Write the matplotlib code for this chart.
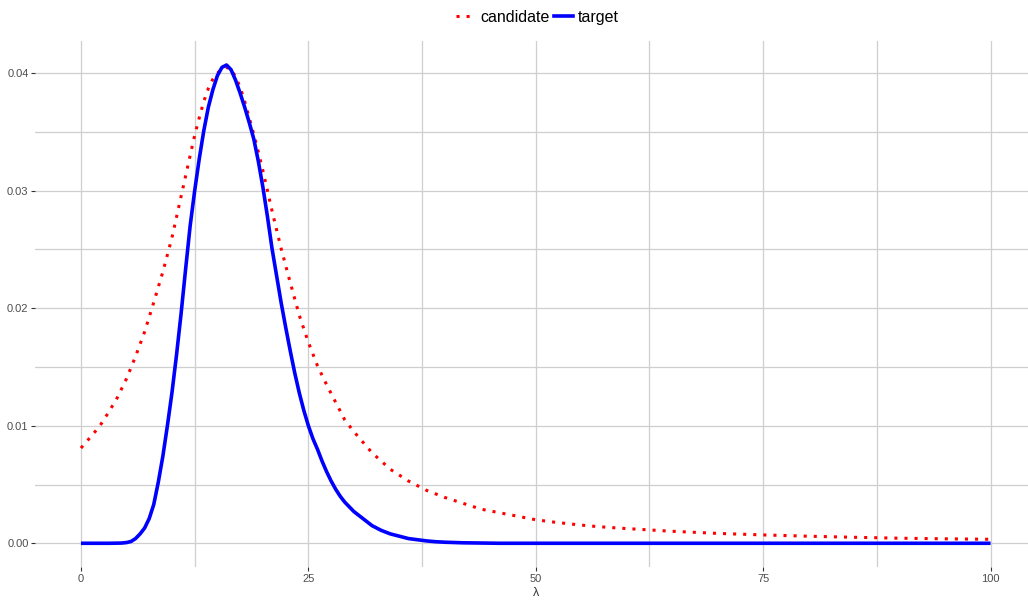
import matplotlib
matplotlib.use("Agg")
import matplotlib.pyplot as plt
from matplotlib.lines import Line2D
from matplotlib.ticker import MultipleLocator

plt.rcParams['font.family'] = ['Liberation Sans', 'DejaVu Sans']

# proposal density (dotted red)
lam_candidate = [0, 1, 2, 3, 4, 5, 6, 7, 8, 9, 10, 11,
                 12, 12.5, 13, 13.5, 14, 14.5, 15, 15.5, 16, 16.5, 17, 17.5,
                 18, 18.5, 19, 19.5, 20,
                 21, 22, 23, 24, 25, 26, 27, 28, 29, 30,
                 31, 32, 33, 34, 35, 36, 37, 38, 39, 40,
                 42, 44, 46, 48, 50, 52, 54, 56, 58, 60,
                 65, 70, 75, 80, 85, 90, 95, 100]
candidate = [0.0081, 0.0090, 0.0099, 0.0111, 0.0124, 0.0140, 0.0159, 0.0180, 0.0205, 0.0231, 0.0260, 0.0295,
             0.0330, 0.0347, 0.0362, 0.0376, 0.0387, 0.0395, 0.0400, 0.0404, 0.0405, 0.0403, 0.0397, 0.0388,
             0.0376, 0.0362, 0.0348, 0.0333, 0.0317,
             0.0283, 0.0251, 0.0222, 0.0194, 0.0171, 0.0151, 0.0135, 0.0120, 0.0105, 0.0095,
             0.0086, 0.0077, 0.0070, 0.0063, 0.0058, 0.0053, 0.0049, 0.0045, 0.0042, 0.0039,
             0.0034, 0.0029, 0.0026, 0.0023, 0.0020, 0.0018, 0.00163, 0.00147, 0.00135, 0.00125,
             0.00102, 0.00084, 0.00071, 0.00060, 0.00051, 0.00043, 0.00038, 0.00034]

# target density (solid blue)
lam_target = [0, 1, 2, 3, 4, 4.5, 5, 5.5, 6, 6.5, 7, 7.5, 8, 8.5, 9, 9.5,
              10, 10.5, 11, 11.5, 12, 12.5, 13, 13.5, 14, 14.5, 15, 15.5,
              16, 16.5, 17, 17.5, 18, 18.5, 19, 19.5, 20, 20.5, 21, 21.5,
              22, 22.5, 23, 23.5, 24, 24.5, 25, 25.5, 26, 26.5, 27, 27.5,
              28, 28.5, 29, 29.5, 30, 31, 32, 33, 34, 35, 36, 37, 38, 39,
              40, 42, 44, 46, 50, 60, 70, 80, 90, 100]
target = [0.0, 0.0, 0.0, 0.0, 0.00001, 0.00002, 0.00006, 0.00015, 0.0004, 0.0008, 0.0013, 0.0021, 0.0033, 0.0052, 0.0074, 0.0100,
          0.0128, 0.0160, 0.0195, 0.0233, 0.0270, 0.0300, 0.0327, 0.0351, 0.0371, 0.0386, 0.0398, 0.0405,
          0.0407, 0.0403, 0.0394, 0.0383, 0.0371, 0.0358, 0.0344, 0.0325, 0.0303, 0.0278, 0.0251, 0.0228,
          0.0205, 0.0184, 0.0164, 0.0145, 0.0128, 0.0113, 0.0100, 0.0089, 0.0080, 0.0070, 0.0061, 0.0053,
          0.0046, 0.0040, 0.0035, 0.0031, 0.0027, 0.0021, 0.0015, 0.0011, 0.0008, 0.0006, 0.0004, 0.0003, 0.0002, 0.00013,
          0.00009, 0.00004, 0.00002, 0.0, 0.0, 0.0, 0.0, 0.0, 0.0, 0.0]

x_ticks = [0, 25, 50, 75, 100]
y_ticks = [0.00, 0.01, 0.02, 0.03, 0.04]

fig = plt.figure(figsize=(10.28, 6.0), dpi=100)
ax = fig.add_axes([0.03453, 0.0547, 0.9733, 0.8768])

dot_style = (0, (1, 2.3))
ax.plot(lam_candidate, candidate, color='red', lw=2.2, linestyle=dot_style,
        dash_capstyle='butt', zorder=3)
ax.plot(lam_target, target, color='blue', lw=2.6, solid_joinstyle='round',
        solid_capstyle='butt', zorder=3)

xmin, xmax = 0, 100
ymin, ymax = 0.0, max(max(candidate), max(target))
xpad = 0.05 * (xmax - xmin)
ypad = 0.05 * (ymax - ymin)
ax.set_xlim(xmin - xpad, xmax + xpad)
ax.set_ylim(ymin - ypad, ymax + ypad)

ax.set_xticks(x_ticks)
ax.set_xticklabels([str(t) for t in x_ticks])
ax.set_yticks(y_ticks)
ax.set_yticklabels([f"{t:.2f}" for t in y_ticks])
ax.xaxis.set_minor_locator(MultipleLocator(12.5))
ax.yaxis.set_minor_locator(MultipleLocator(0.005))

ax.grid(True, which='major', color='#cfcfcf', lw=0.9)
ax.grid(True, which='minor', color='#cfcfcf', lw=0.9)
ax.set_axisbelow(True)
for s in ax.spines.values():
    s.set_visible(False)

ax.tick_params(which='major', length=3, width=0.8, color='#333333',
               labelsize=8, labelcolor='#4d4d4d', pad=2)
ax.tick_params(which='minor', length=0)

ax.set_xlabel('λ', fontsize=9, color='#333333', labelpad=2)

handles = [Line2D([], [], color='red', lw=2.2, linestyle=(0, (1, 2.3)), dash_capstyle='butt'),
           Line2D([], [], color='blue', lw=2.6)]
fig.legend(handles, ['candidate', 'target'], loc='upper center',
           bbox_to_anchor=(0.523, 1.0), ncol=2, frameon=False,
           fontsize=11.5, handlelength=1.2, handletextpad=0.3, columnspacing=0.3,
           borderaxespad=0.2)

fig.savefig('out.png', dpi=100)
